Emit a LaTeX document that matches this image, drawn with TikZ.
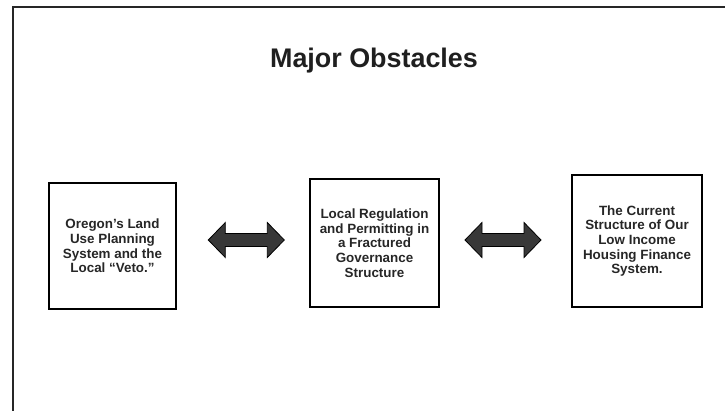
\documentclass[tikz,border=0pt]{standalone}
\usepackage{fontspec}
\setmainfont{Liberation Sans}
\begin{document}
\begin{tikzpicture}[x=1pt,y=-1pt,
  box/.style={draw=black, line width=1.5pt, inner sep=0pt, align=center,
    font=\bfseries\fontsize{13.4}{14.7}\selectfont, text=black!85},
  barrow/.style={draw=black, line width=0.8pt, fill=black!78, line join=miter},
  frame/.style={draw=black!85, line width=1.8pt}]
\useasboundingbox (0,0) rectangle (725,411);
% outer frame (continues beyond the right and bottom edges)
\coordinate (fbl) at (13,415);
\coordinate (ftl) at (13,7);
\coordinate (ftr) at (730,7);
\draw[frame] (fbl) -- (ftl) -- (ftr);
% title
\node[anchor=base, font=\bfseries\fontsize{26.9}{30}\selectfont, text=black!88] (title) at (374,68) {Major Obstacles};
% boxes
\node[box, minimum width=127pt, minimum height=126pt] (b1) at (112.5,246)
  {Oregon's Land\\Use Planning\\System and the\\Local ``Veto.''};
\node[box, minimum width=129pt, minimum height=128pt] (b2) at (374.5,243)
  {Local Regulation\\and Permitting in\\a Fractured\\Governance\\Structure};
\node[box, minimum width=130pt, minimum height=132pt] (b3) at (637,241)
  {The Current\\Structure of Our\\Low Income\\Housing Finance\\System.};
% double block arrows
\coordinate (a1) at (246.3,240);
\coordinate (a2) at (503,240);
\foreach \c in {a1,a2}{
  \draw[barrow] (\c) ++(-38,0) -- ++(17,-17.5) -- ++(0,11) -- ++(42,0) -- ++(0,-11)
    -- ++(17,17.5) -- ++(-17,17.5) -- ++(0,-11) -- ++(-42,0) -- ++(0,11) -- cycle;
}
\end{tikzpicture}
\end{document}
